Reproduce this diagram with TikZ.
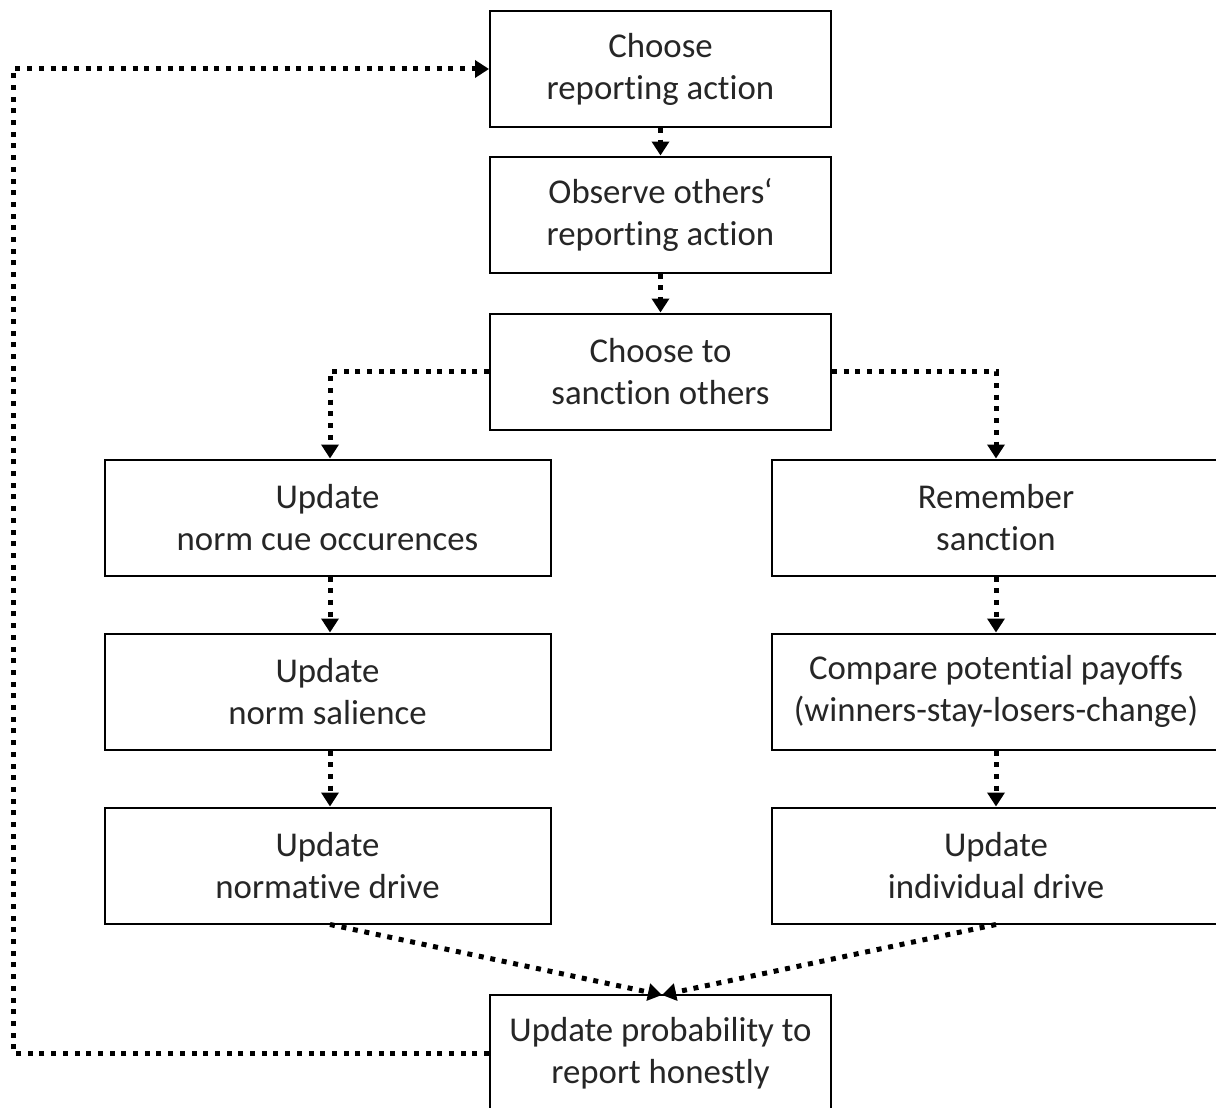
\documentclass[tikz,border=0pt]{standalone}
\usepackage{fontspec}
\setmainfont[Ligatures=NoCommon]{Carlito}
\usetikzlibrary{arrows.meta}
\definecolor{ink}{HTML}{262626}
\tikzset{
  box/.style={draw=black, line width=2pt, fill=white, text=ink, align=center,
    inner sep=0pt, minimum width=341pt, minimum height=116pt,
    font=\fontsize{34.8}{42}\selectfont},
  widebox/.style={box, minimum width=446pt},
  flow/.style={draw=black, line width=5pt, dash pattern=on 5pt off 6.7pt,
    -{Triangle[length=14pt,width=17pt]}},
}
\begin{document}
\begin{tikzpicture}[x=1pt,y=-1pt]
\useasboundingbox (0,0) rectangle (1216,1108);
\clip (0,0) rectangle (1216,1108);
\fill[white] (0,0) rectangle (1216,1108);

% central column
\node[box] (choose) at (660.5,69) {Choose\\reporting action};
\node[box] (observe) at (660.5,214.5) {Observe others‘\\reporting action};
\node[box] (sanction) at (660.5,371.5) {Choose to\\sanction others};

% normative branch
\node[widebox] (cue) at (327.5,517.5) {Update\\norm cue occurences};
\node[widebox] (salience) at (327.5,691.5) {Update\\norm salience};
\node[widebox] (normdrive) at (327.5,865.5) {Update\\normative drive};

% individual branch
\node[widebox, minimum width=448pt] (remember) at (996,517.5) {Remember\\sanction};
\node[widebox, minimum width=448pt] (compare) at (996,691.5) {Compare potential payoffs\\(winners-stay-losers-change)};
\node[widebox, minimum width=448pt] (inddrive) at (996,865.5) {Update\\individual drive};

% final step
\node[box] (prob) at (660.5,1053) {Update probability to\\report honestly};

\coordinate (loopcorner) at (13,1053);

% connectors
\draw[flow] (choose.south) -- (observe.north);
\draw[flow] (observe.south) -- (sanction.north);
\draw[flow] (sanction.west) -| ([xshift=2.5pt]cue.north);
\draw[flow] (sanction.east) -| (remember.north);
\draw[flow] ([xshift=2.5pt]cue.south) -- ([xshift=2.5pt]salience.north);
\draw[flow] ([xshift=2.5pt]salience.south) -- ([xshift=2.5pt]normdrive.north);
\draw[flow] (remember.south) -- (compare.north);
\draw[flow] (compare.south) -- (inddrive.north);
\draw[flow] ([xshift=2.5pt]normdrive.south) -- ([xshift=1.5pt,yshift=-1pt]prob.north);
\draw[flow] (inddrive.south) -- ([xshift=1.5pt,yshift=-1pt]prob.north);
\draw[flow] (prob.west) -- (loopcorner) |- (choose.west);
\end{tikzpicture}
\end{document}
